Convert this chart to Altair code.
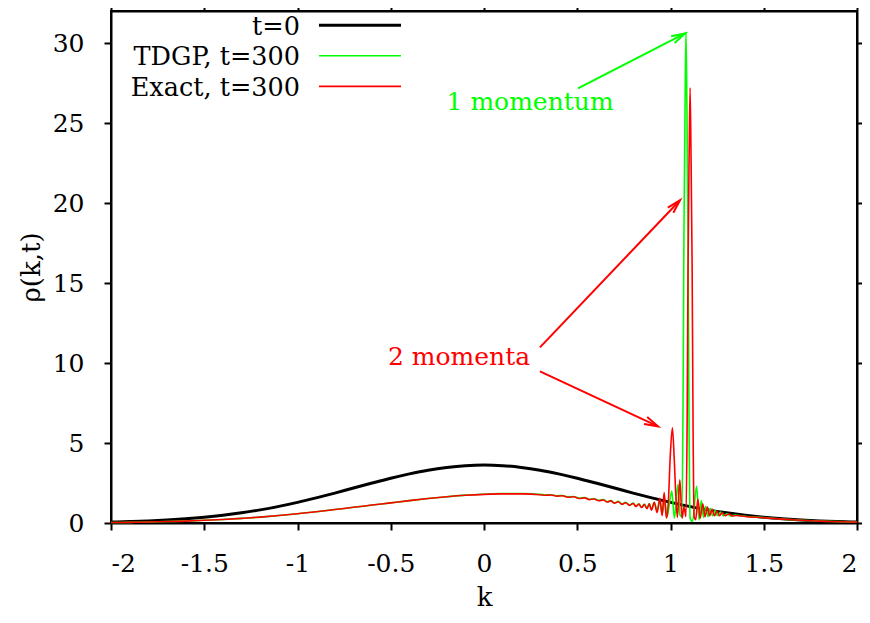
import math
import altair as alt
import pandas as pd

# ---------------- data ----------------
k_t0 = [-2.0, -1.9, -1.8, -1.7, -1.6, -1.5, -1.4, -1.3, -1.2, -1.1, -1.0,
        -0.9, -0.8, -0.7, -0.6, -0.5, -0.4, -0.3, -0.2, -0.1, 0.0,
        0.1, 0.2, 0.3, 0.4, 0.5, 0.6, 0.7, 0.8, 0.9, 1.0,
        1.1, 1.2, 1.3, 1.4, 1.5, 1.6, 1.7, 1.8, 1.9, 2.0]
rho_t0 = [0.059, 0.088, 0.129, 0.185, 0.26, 0.357, 0.48, 0.635, 0.82, 1.04, 1.29,
          1.57, 1.87, 2.19, 2.50, 2.80, 3.07, 3.30, 3.47, 3.58, 3.62,
          3.58, 3.47, 3.30, 3.07, 2.80, 2.50, 2.19, 1.87, 1.57, 1.29,
          1.04, 0.82, 0.635, 0.48, 0.357, 0.26, 0.185, 0.129, 0.088, 0.059]

k_tdgp = [-2.0, -1.9, -1.8, -1.7, -1.6, -1.5, -1.4, -1.3, -1.2, -1.1, -1.0,
          -0.9, -0.8, -0.7, -0.6, -0.5, -0.4, -0.3, -0.2, -0.1, 0.0, 0.1, 0.2, 0.3,
          0.33, 0.36, 0.39, 0.42, 0.45, 0.48, 0.51, 0.54, 0.565, 0.59, 0.615, 0.64,
          0.66, 0.68, 0.70, 0.72, 0.74, 0.76, 0.78, 0.80, 0.815, 0.83, 0.845, 0.86,
          0.874, 0.886, 0.898, 0.913, 0.928, 0.943, 0.956, 0.968, 0.982, 0.994,
          1.007, 1.021, 1.040, 1.051, 1.061, 1.067, 1.072, 1.078, 1.083, 1.088,
          1.094, 1.099, 1.105, 1.118, 1.140, 1.153, 1.165, 1.177, 1.189, 1.201,
          1.213, 1.226, 1.239, 1.253, 1.268, 1.283, 1.303, 1.323, 1.343, 1.40,
          1.5, 1.6, 1.7, 1.8, 1.9, 2.0]
rho_tdgp = [0.03, 0.04, 0.06, 0.09, 0.12, 0.17, 0.22, 0.29, 0.37, 0.47, 0.58,
            0.70, 0.84, 0.98, 1.12, 1.26, 1.40, 1.53, 1.64, 1.74, 1.80, 1.84, 1.84, 1.79,
            1.75, 1.77, 1.70, 1.72, 1.63, 1.66, 1.55, 1.59, 1.48, 1.52, 1.41, 1.46,
            1.33, 1.40, 1.26, 1.35, 1.19, 1.29, 1.12, 1.25, 1.05, 1.20, 0.98, 1.18,
            0.92, 1.22, 0.85, 1.28, 0.75, 1.35, 0.60, 1.45, 0.40, 1.20,
            2.0, 0.3, 2.4, 0.5, 0.4, 7.0, 18.0, 26.0, 30.7, 26.0,
            18.0, 7.0, 0.3, 0.1, 2.3, 0.2, 1.4, 0.35, 1.05, 0.4,
            0.9, 0.45, 0.78, 0.45, 0.68, 0.45, 0.58, 0.44, 0.5, 0.42,
            0.34, 0.245, 0.175, 0.12, 0.083, 0.056]

k_exact = [-2.0, -1.9, -1.8, -1.7, -1.6, -1.5, -1.4, -1.3, -1.2, -1.1, -1.0,
           -0.9, -0.8, -0.7, -0.6, -0.5, -0.4, -0.3, -0.2, -0.1, 0.0, 0.1, 0.2, 0.3,
           0.33, 0.36, 0.39, 0.42, 0.45, 0.48, 0.51, 0.54, 0.565, 0.59, 0.615, 0.64,
           0.66, 0.68, 0.70, 0.72, 0.74, 0.76, 0.78, 0.80, 0.815, 0.83, 0.845, 0.86,
           0.874, 0.886, 0.898, 0.913, 0.928, 0.943, 0.955, 0.966, 0.978, 0.988,
           0.998, 1.010, 1.020, 1.029, 1.037, 1.050, 1.062, 1.072, 1.083, 1.089,
           1.094, 1.100, 1.105, 1.110, 1.116, 1.121, 1.127, 1.135, 1.147, 1.159,
           1.173, 1.185, 1.198, 1.210, 1.223, 1.236, 1.249, 1.263, 1.278, 1.293,
           1.313, 1.333, 1.353, 1.40, 1.5, 1.6, 1.7, 1.8, 1.9, 2.0]
rho_exact = [0.03, 0.04, 0.06, 0.09, 0.12, 0.17, 0.22, 0.29, 0.37, 0.47, 0.58,
             0.70, 0.84, 0.98, 1.12, 1.26, 1.40, 1.53, 1.64, 1.73, 1.79, 1.82, 1.82, 1.77,
             1.73, 1.75, 1.68, 1.70, 1.61, 1.64, 1.53, 1.57, 1.46, 1.50, 1.39, 1.44,
             1.31, 1.38, 1.24, 1.33, 1.17, 1.27, 1.10, 1.22, 1.03, 1.18, 0.97, 1.16,
             0.90, 1.20, 0.80, 1.30, 0.65, 1.55, 0.45, 1.90, 0.30, 1.20,
             4.0, 5.95, 4.0, 1.6, 0.35, 2.7, 0.3, 1.0, 0.4, 6.0,
             16.0, 23.0, 27.2, 23.0, 16.0, 6.0, 0.4, 0.2, 1.5, 0.3,
             1.2, 0.4, 1.0, 0.45, 0.85, 0.45, 0.75, 0.45, 0.65, 0.45,
             0.56, 0.44, 0.47, 0.41, 0.33, 0.24, 0.17, 0.12, 0.08, 0.055]

series_names = ["t=0", "TDGP, t=300", "Exact, t=300"]
series_colors = ["#000000", "#00ff00", "#ff0000"]
series_widths = [3.0, 1.6, 1.6]

# legend rows (data coordinates)
legend_text_k = [-0.987, -0.987, -0.987]
legend_line_k0 = [-0.885, -0.885, -0.885]
legend_line_k1 = [-0.445, -0.445, -0.445]
legend_row_rho = [31.11, 29.2, 27.29]

# annotations
note_text = ["1 momentum", "2 momenta"]
note_k = [0.247, -0.134]
note_rho = [25.84, 9.86]
note_color = ["#00ff00", "#ff0000"]

arrow_k0 = [0.504, 0.300, 0.300]
arrow_r0 = [27.17, 10.98, 9.48]
arrow_k1 = [1.078, 1.051, 0.933]
arrow_r1 = [30.6, 20.17, 6.04]
arrow_color = ["#00ff00", "#ff0000", "#ff0000"]

x_ticks = [-2, -1.5, -1, -0.5, 0, 0.5, 1, 1.5, 2]
y_ticks = [0, 5, 10, 15, 20, 25, 30]

# ---------------- chart ----------------
W, H = 746, 512
XD, YD = [-2, 2], [0, 32]
FONT = "DejaVu Serif"

xs = alt.Scale(domain=XD, nice=False, zero=False)
ys = alt.Scale(domain=YD, nice=False, zero=False)

def line_layer(k, r, color, width, axes=False):
    df = pd.DataFrame({"k": k, "rho": r})
    if axes:
        xax = alt.Axis(orient="top", values=x_ticks, labels=False, title=None, grid=False)
        yax = alt.Axis(orient="right", values=y_ticks, labels=False, title=None, grid=False)
    else:
        xax = None
        yax = None
    return alt.Chart(df).mark_line(color=color, strokeWidth=width, interpolate="monotone").encode(
        x=alt.X("k:Q", scale=xs, axis=xax),
        y=alt.Y("rho:Q", scale=ys, axis=yax),
    )

black = alt.Chart(pd.DataFrame({"k": k_t0, "rho": rho_t0})).mark_line(
    color=series_colors[0], strokeWidth=series_widths[0], interpolate="monotone"
).encode(
    x=alt.X("k:Q", scale=xs, axis=alt.Axis(
        orient="bottom", values=x_ticks, labelExpr="'' + datum.value", grid=False,
        title="k", titleX=W / 2, titleY=74, titleBaseline="middle", titleAlign="center",
        labelPadding=21)),
    y=alt.Y("rho:Q", scale=ys, axis=alt.Axis(
        orient="left", values=y_ticks, labelExpr="'' + datum.value", grid=False,
        title="ρ(k,t)", titleX=-80, titleY=H / 2, titleAngle=270, titleBaseline="middle",
        titleAlign="center", labelPadding=20)),
)

green = line_layer(k_tdgp, rho_tdgp, series_colors[1], series_widths[1], axes=True)
red = line_layer(k_exact, rho_exact, series_colors[2], series_widths[2])

# legend
px_per_rho = H / (YD[1] - YD[0])
leg_df = pd.DataFrame({
    "name": series_names, "color": series_colors, "w": series_widths,
    "tk": legend_text_k, "k0": legend_line_k0, "k1": legend_line_k1,
    "r": legend_row_rho,
    "rt": [v - 9.5 / px_per_rho for v in legend_row_rho],
})
leg_text = alt.Chart(leg_df).mark_text(
    font=FONT, fontSize=25.5, align="right", baseline="alphabetic", color="black"
).encode(
    x=alt.X("tk:Q", scale=xs, axis=None), y=alt.Y("rt:Q", scale=ys, axis=None), text="name:N"
)
leg_line = alt.Chart(leg_df).mark_rule().encode(
    x=alt.X("k0:Q", scale=xs, axis=None), x2="k1:Q",
    y=alt.Y("r:Q", scale=ys, axis=None),
    color=alt.Color("color:N", scale=None),
    strokeWidth=alt.StrokeWidth("w:Q", scale=None),
)

# annotations
note_df = pd.DataFrame({"t": note_text, "k": note_k, "r": note_rho, "c": note_color})
notes = alt.Chart(note_df).mark_text(
    font=FONT, fontSize=25, align="center", baseline="alphabetic"
).encode(
    x=alt.X("k:Q", scale=xs, axis=None), y=alt.Y("r:Q", scale=ys, axis=None), text="t:N",
    color=alt.Color("c:N", scale=None),
)

sx = W / (XD[1] - XD[0])
sy = H / (YD[1] - YD[0])
angles = []
for a0, b0, a1, b1 in zip(arrow_k0, arrow_r0, arrow_k1, arrow_r1):
    dx = (a1 - a0) * sx
    dy = -(b1 - b0) * sy
    angles.append(math.degrees(math.atan2(dx, -dy)) % 360)
arr_df = pd.DataFrame({"k0": arrow_k0, "r0": arrow_r0, "k1": arrow_k1, "r1": arrow_r1,
                       "c": arrow_color, "ang": angles})
arr_lines = alt.Chart(arr_df).mark_rule(strokeWidth=2).encode(
    x=alt.X("k0:Q", scale=xs, axis=None), y=alt.Y("r0:Q", scale=ys, axis=None),
    x2="k1:Q", y2="r1:Q", color=alt.Color("c:N", scale=None),
)
arr_heads = alt.Chart(arr_df).mark_point(
    shape="M -0.28 1 L 0 0 L 0.28 1", size=750, filled=False, strokeWidth=2, opacity=1
).encode(
    x=alt.X("k1:Q", scale=xs, axis=None), y=alt.Y("r1:Q", scale=ys, axis=None),
    color=alt.Color("c:N", scale=None), angle=alt.Angle("ang:Q", scale=None),
)

chart = alt.layer(
    black, green, red, leg_line, leg_text, notes, arr_lines, arr_heads
).resolve_axis(x="independent", y="independent").properties(
    width=W, height=H,
    padding={"left": 103, "top": 3, "right": 5, "bottom": 90},
    autosize=alt.AutoSizeParams(type="none"),
    background="white",
).configure_view(
    stroke="black", strokeWidth=2
).configure_axis(
    domainColor="black", domainWidth=2, tickColor="black", tickWidth=2, tickSize=7,
    labelFont=FONT, labelFontSize=25, labelColor="black",
    titleFont=FONT, titleFontSize=26, titleFontWeight="normal", titleColor="black",
)

chart.save("out.html", embed_options={"renderer": "svg", "actions": False})
